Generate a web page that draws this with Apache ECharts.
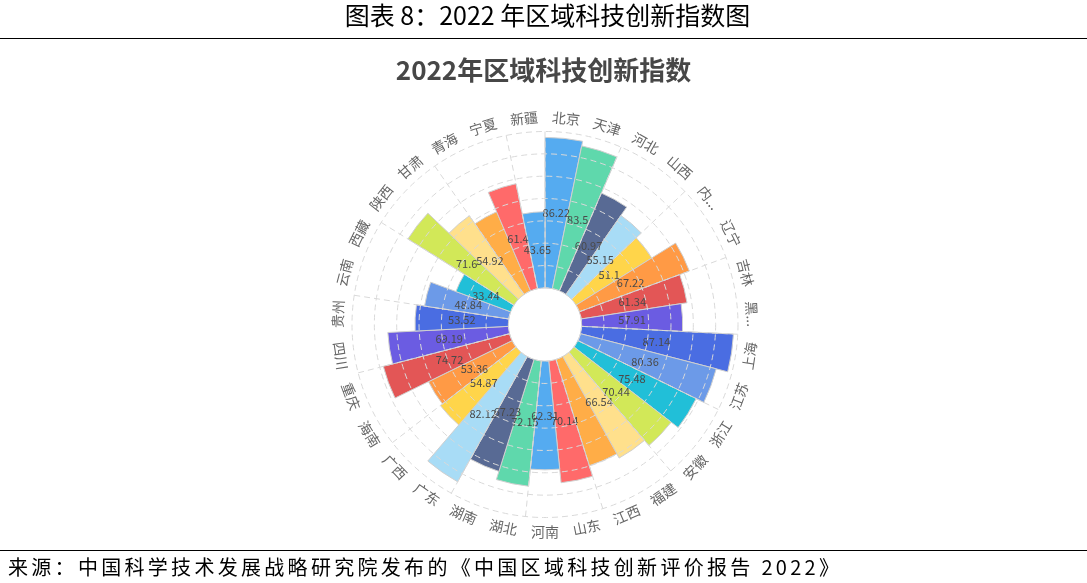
<!DOCTYPE html>
<html>
<head>
<meta charset="utf-8">
<script src="https://cdn.jsdelivr.net/npm/echarts@6/dist/echarts.min.js"></script>
<style>
  html, body { margin: 0; padding: 0; background: #fff; }
  body { width: 1087px; height: 583px; position: relative; overflow: hidden; font-family: "Noto Sans CJK SC", sans-serif; }
  #header { position: absolute; left: 0; top: -1px; width: 1087px; text-align: center; font-size: 25px; line-height: 30px; color: #000; padding-left: 8px; box-sizing: border-box; }
  #topline { position: absolute; left: 0; top: 38px; width: 1087px; height: 0; border-top: 1.5px solid #000; }
  #bottomline { position: absolute; left: 0; top: 550px; width: 1087px; height: 0; border-top: 1.5px solid #000; }
  #footer { position: absolute; left: 8px; top: 553px; font-size: 20px; line-height: 28px; color: #000; letter-spacing: 3.3px; white-space: nowrap; }
  #chart { position: absolute; left: 0; top: 0; width: 1087px; height: 583px; }
</style>
</head>
<body>
<div id="chart"></div>
<div id="header">图表 8：2022 年区域科技创新指数图</div>
<div id="topline"></div>
<div id="bottomline"></div>
<div id="footer">来源：中国科学技术发展战略研究院发布的《中国区域科技创新评价报告 2022》</div>
<script>
const chartTitle = '2022年区域科技创新指数';
const categories = ['北京','天津','河北','山西','内蒙古','辽宁','吉林','黑龙江','上海','江苏','浙江','安徽','福建','江西','山东','河南','湖北','湖南','广东','广西','海南','重庆','四川','贵州','云南','西藏','陕西','甘肃','青海','宁夏','新疆'];
const values = [86.22, 83.5, 60.97, 55.15, 51.1, 67.22, 61.34, 57.91, 87.14, 80.36, 75.48, 70.44, 66.54, 63.8, 70.14, 62.31, 72.15, 67.23, 82.12, 54.87, 53.36, 74.72, 69.19, 53.52, 48.84, 33.44, 71.6, 54.92, 49.3, 61.4, 43.65];
// value labels that are not shown in the reference
const hiddenValueLabels = ['江西', '青海'];
const palette = ['#55abf0','#5fd8ac','#586a94','#a8dcf6','#ffd54a','#ff9a45','#e35656','#6b5ce2','#4a6de2','#6c9ae8','#21bfd8','#d2e858','#ffe08c','#ffad47','#ff6a6a'];

const center = [545, 324.5];
const barData = values.map(function (v, i) {
  const item = { value: v };
  if (hiddenValueLabels.indexOf(categories[i]) >= 0) item.label = { show: false };
  return item;
});
const chart = echarts.init(document.getElementById('chart'), null, { renderer: 'canvas' });
chart.setOption({
  animation: false,
  color: palette,
  title: {
    text: chartTitle,
    left: 'center',
    top: 52,
    textStyle: { fontFamily: 'Noto Sans CJK SC', fontSize: 26, fontWeight: 'bold', color: '#474747' }
  },
  polar: { center: center, radius: [36.6, 193] },
  angleAxis: {
    type: 'category',
    data: categories,
    startAngle: 90,
    clockwise: true,
    z: 10,
    axisLine: { show: false },
    axisTick: { show: false },
    axisLabel: { show: false },
    splitLine: { show: true, lineStyle: { color: '#d9d9d9', type: [6, 4], width: 1 } }
  },
  radiusAxis: {
    type: 'value',
    min: 0,
    max: 89.6,
    interval: 12.8,
    z: 10,
    axisLine: { show: false },
    axisTick: { show: false },
    axisLabel: { show: false },
    splitLine: { show: true, lineStyle: { color: '#d9d9d9', type: [6, 4], width: 1 } }
  },
  series: [
    {
      type: 'bar',
      coordinateSystem: 'polar',
      data: barData,
      colorBy: 'data',
      barCategoryGap: '0%',
      itemStyle: { borderColor: '#cfcfcf', borderWidth: 1 },
      label: {
        show: true,
        position: 'middle',
        rotate: 0,
        formatter: '{c}',
        fontSize: 11,
        color: '#4a4a4a',
        fontFamily: 'Noto Sans CJK SC'
      },
      z: 2
    },
    {
      type: 'pie',
      silent: true,
      center: center,
      radius: [192, 216],
      startAngle: 90,
      clockwise: true,
      avoidLabelOverlap: false,
      itemStyle: { color: 'rgba(0,0,0,0)' },
      label: {
        show: true,
        position: 'inside',
        rotate: 'tangential',
        formatter: '{b}',
        fontSize: 14,
        color: '#666',
        fontFamily: 'Noto Sans CJK SC',
        width: 32,
        overflow: 'truncate',
        ellipsis: '...'
      },
      labelLine: { show: false },
      emphasis: { disabled: true },
      data: categories.map(function (n) { return { name: n, value: 1 }; })
    }
  ]
});
</script>
</body>
</html>
